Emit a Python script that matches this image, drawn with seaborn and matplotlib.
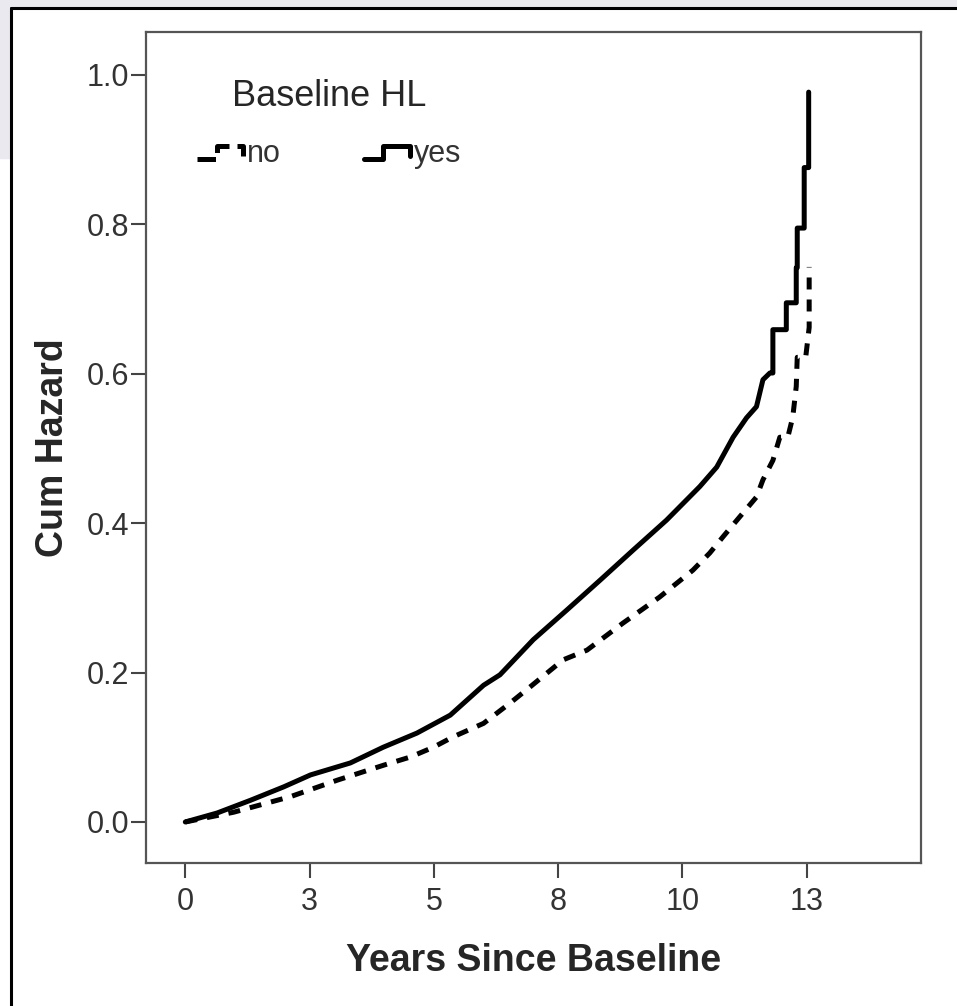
from matplotlib import pyplot as plt
from matplotlib.lines import Line2D
from matplotlib.legend_handler import HandlerBase
from matplotlib.patches import Rectangle
import numpy as np
import seaborn as sns
import pandas as pd

# cumulative hazard (years since baseline, cum hazard)
yes_years = [0.0, 0.64, 1.31, 1.98, 2.52, 3.32, 3.98, 4.66, 5.33, 6.0, 6.33, 7.0, 7.68,
             8.35, 9.01, 9.68, 10.35, 10.69, 11.02, 11.29, 11.49, 11.62, 11.76, 11.82,
             11.82, 12.09, 12.09, 12.29, 12.29, 12.31, 12.31, 12.45, 12.45, 12.54, 12.54]
yes_haz = [0.0, 0.012, 0.029, 0.047, 0.063, 0.079, 0.100, 0.119, 0.143, 0.183, 0.197, 0.244,
           0.284, 0.324, 0.364, 0.404, 0.449, 0.475, 0.515, 0.541, 0.556, 0.592, 0.601, 0.601,
           0.659, 0.659, 0.695, 0.695, 0.742, 0.742, 0.795, 0.795, 0.876, 0.876, 0.977]

no_years = [0.0, 0.97, 2.12, 3.06, 3.99, 4.53, 4.99, 5.39, 6.0, 6.53, 6.94, 7.6, 8.08, 8.8,
            9.54, 10.21, 10.55, 10.82, 11.16, 11.49, 11.62, 11.82, 11.96, 12.12, 12.22,
            12.29, 12.31, 12.48, 12.55, 12.55]
no_haz = [0.0, 0.013, 0.034, 0.056, 0.076, 0.087, 0.100, 0.114, 0.132, 0.159, 0.181, 0.217,
          0.230, 0.266, 0.301, 0.337, 0.360, 0.382, 0.409, 0.435, 0.458, 0.484, 0.515, 0.515,
          0.542, 0.583, 0.622, 0.622, 0.662, 0.743]

groups = ["no", "yes"]
x_ticks = [0, 2.5, 5, 7.5, 10, 12.5]
x_ticklabels = ["0", "3", "5", "8", "10", "13"]
y_ticks = [0.0, 0.2, 0.4, 0.6, 0.8, 1.0]
y_ticklabels = ["0.0", "0.2", "0.4", "0.6", "0.8", "1.0"]

df = pd.concat([
    pd.DataFrame({"years": no_years, "haz": no_haz, "HL": "no"}),
    pd.DataFrame({"years": yes_years, "haz": yes_haz, "HL": "yes"}),
], ignore_index=True)

sns.set_theme(style="white")
plt.rcParams['font.family'] = ['Liberation Sans', 'DejaVu Sans']

fig = plt.figure(figsize=(9.57, 10.06), dpi=100)
ax = fig.add_axes([0.1526, 0.1421, 0.8098, 0.8261])

styles = {"no": (0, (2.4, 2.0)), "yes": "-"}
for g in groups:
    sub = df[df["HL"] == g]
    sns.lineplot(x=sub["years"], y=sub["haz"], ax=ax, color="black", lw=3.6,
                 estimator=None, sort=False, linestyle=styles[g], legend=False)

ax.set_xlim(-0.79, 14.8)
ax.set_ylim(-0.055, 1.0575)
ax.set_xticks(x_ticks)
ax.set_xticklabels(x_ticklabels)
ax.set_yticks(y_ticks)
ax.set_yticklabels(y_ticklabels)
ax.tick_params(direction="out", length=11, width=1.5, color="#444444",
               labelsize=22, labelcolor="#333333", bottom=True, left=True)
ax.tick_params(axis="x", pad=6)
ax.tick_params(axis="y", pad=1)
for s in ax.spines.values():
    s.set_color("#555555")
    s.set_linewidth(1.6)

ax.set_xlabel("Years Since Baseline", fontsize=27, fontweight="bold", labelpad=19)
ax.set_ylabel("Cum Hazard", fontsize=27, fontweight="bold", labelpad=11)


class StepHandler(HandlerBase):                      # little step icon like the SPSS legend
    def create_artists(self, legend, orig_handle, xdescent, ydescent, width, height, fontsize, trans):
        xs = np.array([0.0, 0.4, 0.4, 0.95, 0.95]) * width - xdescent
        ys = np.array([0.1, 0.1, 0.75, 0.75, 0.25]) * height - ydescent
        ln = Line2D(xs, ys, color="black", lw=orig_handle.get_linewidth(),
                    linestyle=orig_handle.get_linestyle())
        ln.set_transform(trans)
        return [ln]


handles = [Line2D([], [], color="black", lw=3.6, linestyle=styles[g]) for g in groups]
leg = ax.legend(handles, groups, title="Baseline HL", ncol=2, frameon=False,
                loc="upper left", bbox_to_anchor=(0.05, 0.958),
                handler_map={Line2D: StepHandler()}, fontsize=22,
                title_fontsize=26, handlelength=1.6, handletextpad=0.05,
                columnspacing=2.7, labelspacing=0.8, borderaxespad=0)
for t in leg.get_texts():
    t.set_color("#333333")

# screenshot surroundings: grey strips and outer black frame
fig.patches.append(Rectangle((0, 1 - 7 / 1006), 1, 7 / 1006, transform=fig.transFigure,
                             color="#e9e9ef", zorder=0))
fig.patches.append(Rectangle((0, 1 - 158 / 1006), 10 / 957, 158 / 1006, transform=fig.transFigure,
                             color="#e9e9ef", zorder=0))
fig.lines.append(Line2D([11 / 957, 1], [1 - 8 / 1006, 1 - 8 / 1006], transform=fig.transFigure,
                        color="black", lw=2.2))
fig.lines.append(Line2D([11 / 957, 11 / 957], [0, 1 - 8 / 1006], transform=fig.transFigure,
                        color="black", lw=2.2))

fig.savefig("out.png", dpi=100)
